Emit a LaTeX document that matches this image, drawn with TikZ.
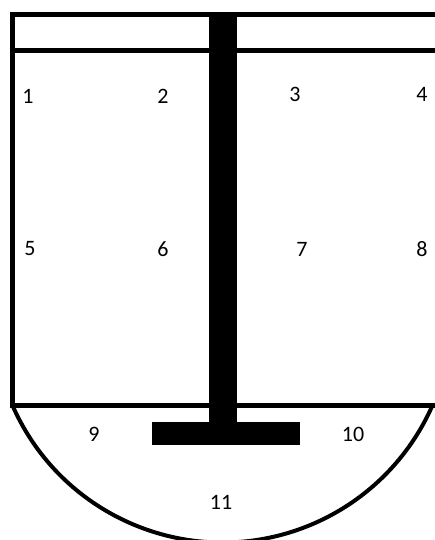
\documentclass[tikz,border=0pt]{standalone}
\usepackage{fontspec}
\setmainfont{Carlito}
\begin{document}
\begin{tikzpicture}[
    x=1pt,y=-1pt,
    every node/.style={font=\fontsize{22}{24}\selectfont},
    frame/.style={draw=black, line width=4.6pt},
    rim/.style={draw=black, line width=4pt},
    shaft/.style={fill=black},
    lbl/.style={inner sep=0pt, text=black}
]
    \useasboundingbox (0,0) rectangle (435,540);
    \clip (0,0) rectangle (435,540);

    % box
    \draw[frame] (440,14.5) -- (12.5,14.5) -- (12.5,405.5) -- (440,405.5);
    \draw[frame] (12.5,50.5) -- (440,50.5);

    % bottom
    \draw[rim] (12.5,405.5) arc[start angle=156.25, end angle=23.75, radius=229.4];

    % shaft and crossbar
    \fill[shaft] (209,12) rectangle (237,423);
    \fill[shaft] (152,422) rectangle (300,445);

    \foreach \x/\y/\t in {28/96/1,163/96/2,295/94/3,422/94/4,
                          30/249/5,163/249/6,302/249/7,422/249/8,
                          94/434/9,353/434/10,221/502/11} {
        \node[lbl] (n\t) at (\x,\y) {\t};
    }
\end{tikzpicture}
\end{document}
